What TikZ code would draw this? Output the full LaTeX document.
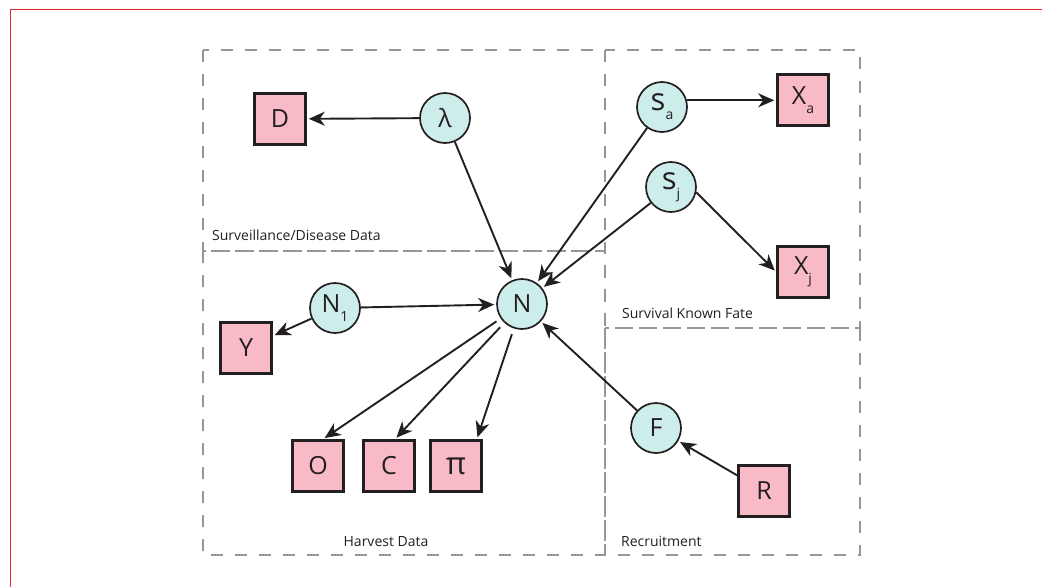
\documentclass[tikz,border=0pt]{standalone}
\usepackage{fontspec}
\setmainfont{Open Sans}
\usetikzlibrary{arrows.meta,calc}
\definecolor{pinkf}{HTML}{F8BAC6}
\definecolor{cyanf}{HTML}{CDEDEA}
\definecolor{ink}{HTML}{231F20}
\definecolor{dashgray}{HTML}{969696}
\definecolor{redline}{HTML}{E0282E}
\newcommand{\mysub}[1]{\raisebox{-9pt}{\fontsize{14}{14}\selectfont #1}}
\newcommand{\bigs}{{\fontsize{31}{31}\selectfont s}}
\begin{document}
\begin{tikzpicture}[x=1pt,y=-1pt,
 obs/.style={draw=ink, line width=2.6pt, fill=pinkf, minimum size=51pt, inner sep=0pt, font=\fontsize{25}{25}\selectfont, text=ink},
 lat/.style={circle, draw=ink, line width=1.7pt, fill=cyanf, minimum size=50pt, inner sep=0pt, font=\fontsize{25}{25}\selectfont, text=ink},
 arr/.style={-{Stealth[length=16pt,width=14pt,inset=5pt]}, line width=1.9pt, draw=ink, shorten >=2pt},
 region/.style={draw=dashgray, line width=1.5pt, dash pattern=on 12pt off 12pt},
 lbl/.style={font=\fontsize{14}{15}\selectfont, text=ink, inner sep=0pt}
]
\useasboundingbox (0,0) rectangle (1042,587);
\draw[redline, line width=1.5pt] (10.5,587) -- (10.5,9.5) -- (1042,9.5);

\draw[region] (203,50) rectangle (605,251);
\draw[region] (203,251) rectangle (605,555);
\draw[region] (605,50) rectangle (860,328);
\draw[region] (605,328) rectangle (860,555);

\node[lbl, anchor=west] (lsd) at (212,235) {Surveillance/Disease Data};
\node[lbl, anchor=west] (lskf) at (622,313) {Survival Known Fate};
\node[lbl] (lhd) at (386,542) {Harvest Data};
\node[lbl, anchor=west] (lrec) at (621,541) {Recruitment};

\node[obs] (D) at (280,119) {D};
\node[lat] (lam) at (445,118) {λ};
\node[lat] (sa) at (662,107) {\bigs\mysub{a}};
\node[obs] (Xa) at (803,100) {X\mysub{a}};
\node[lat] (sj) at (671,187) {\bigs\mysub{j}};
\node[obs] (Xj) at (803,272) {X\mysub{j}};
\node[lat] (N) at (522,304) {N};
\node[lat] (N1) at (335,308) {N\mysub{1}};
\node[obs] (Y) at (246,348) {Y};
\node[obs] (O) at (318,466) {O};
\node[obs] (C) at (389,466) {C};
\node[obs, font=\fontsize{31}{31}\selectfont] (P) at (456,466) {π};
\node[lat] (F) at (656,428) {F};
\node[obs] (R) at (764,491) {R};

\draw[arr] (lam) -- (D);
\draw[arr] (lam) -- (N);
\draw[arr] (sa) -- (N);
\draw[arr] (sj) -- (N);
\draw[arr] (sa.15) -- (sa.15 -| Xa.west);
\draw[arr] (sj.-12) -- (Xj.west);
\draw[arr] (N1) -- (N);
\draw[arr] (N1) -- (Y);
\draw[arr, shorten <=5pt] (N) -- ($(O.north)+(5,0)$);
\draw[arr, shorten <=6pt] (N) -- ($(C.north)+(6,0)$);
\draw[arr, shorten <=6pt] (N) -- ($(P.north east)+(-6,0)$);
\draw[arr] (F) -- (N);
\draw[arr] (R) -- (F);
\end{tikzpicture}
\end{document}
